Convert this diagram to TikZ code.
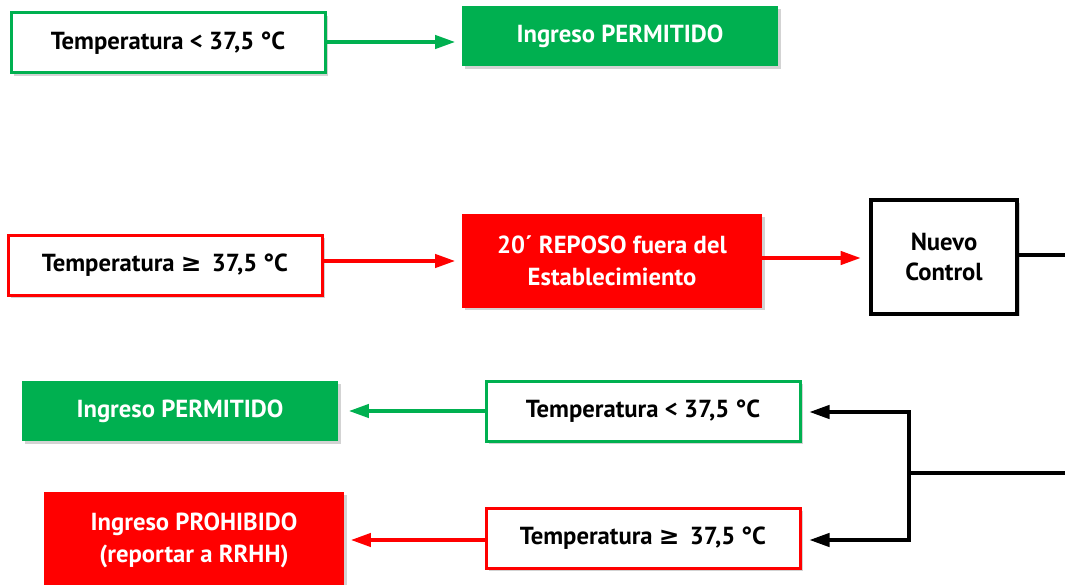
\documentclass[tikz,border=0pt]{standalone}
\usepackage{fontspec}
\setmainfont{PT Sans}
\newfontfamily\symfont{DejaVu Sans}
\usetikzlibrary{shadows,arrows.meta}
\definecolor{okgreen}{RGB}{0,176,80}
\definecolor{stopred}{RGB}{255,0,0}
\newcommand{\atleast}{{\symfont\bfseries ≥}}
\tikzset{
  box/.style={
    font=\bfseries\fontsize{18.5}{24}\selectfont,
    align=center,
    inner sep=0pt,
    minimum width=235.5pt,
    minimum height=45pt,
    drop shadow={opacity=0.35,shadow xshift=2pt,shadow yshift=-2pt},
  },
  box frame/.style={
    box,
    draw=#1,
    line width=2.25pt,
    fill=white,
  },
  box fill/.style={
    box,
    fill=#1,
    text=white,
  },
  link/.style={
    draw=#1,
    line width=2.5pt,
    -{Triangle[length=15pt,width=10pt]},
  }
}

\begin{document}
\begin{tikzpicture}[x=0.75pt,y=0.75pt,yscale=-1,xscale=1]
\useasboundingbox (0,0) rectangle (1065,585);
\clip (0,0) rectangle (1065,585);

% First check: below the limit
\node [box frame=okgreen] (lowA) at (168,43) {Temperatura < 37,5 °C};
\node [box fill=okgreen, minimum width=237pt] (okA) at (620,36) {Ingreso PERMITIDO};
\draw [link=okgreen, shorten >=5pt] (lowA.east |- 0,42) -- (okA.west |- 0,42);

% First check: over the limit
\node [box frame=stopred] (highA) at (165,265) {Temperatura \atleast\ \,37,5 °C};
\node [box fill=stopred, minimum width=225pt, minimum height=70pt] (rest) at (612,261) {20´ REPOSO fuera del\\Establecimiento};
\node [box frame=black, line width=3pt, minimum width=110pt, minimum height=85pt,
  font=\bfseries\fontsize{18.5}{22}\selectfont] (retest) at (944,257) {Nuevo\\Control};
\draw [link=stopred, shorten >=5pt] (highA.east |- 0,261) -- (rest.west |- 0,261);
\draw [link=stopred, shorten >=6pt] (rest.east |- 0,258) -- (retest.west |- 0,258);

% Second check
\node [box frame=okgreen] (lowB) at (643,411) {Temperatura < 37,5 °C};
\node [box fill=okgreen, minimum width=237pt] (okB) at (180,411) {Ingreso PERMITIDO};
\node [box frame=stopred] (highB) at (643,538) {Temperatura \atleast\ \,37,5 °C};
\node [box fill=stopred, minimum width=225pt, minimum height=72pt] (deny) at (194,540) {Ingreso PROHIBIDO\\(reportar a RRHH)};
\draw [link=okgreen, shorten >=8pt] (lowB.west) -- (okB.east);
\draw [link=stopred, shorten >=5pt] (highB.west |- 0,540) -- (deny.east |- 0,540);

% Return line from the new control
\coordinate (split) at (909,473);
\draw [black, line width=2.5pt] (retest.east |- 0,255) -- (1100,255) -- (1100,473) -- (split);
\draw [link=black, shorten >=6pt] (split) |- (lowB.east |- 0,412);
\draw [link=black, shorten >=6pt] (split) |- (highB.east |- 0,540);

\end{tikzpicture}
\end{document}
